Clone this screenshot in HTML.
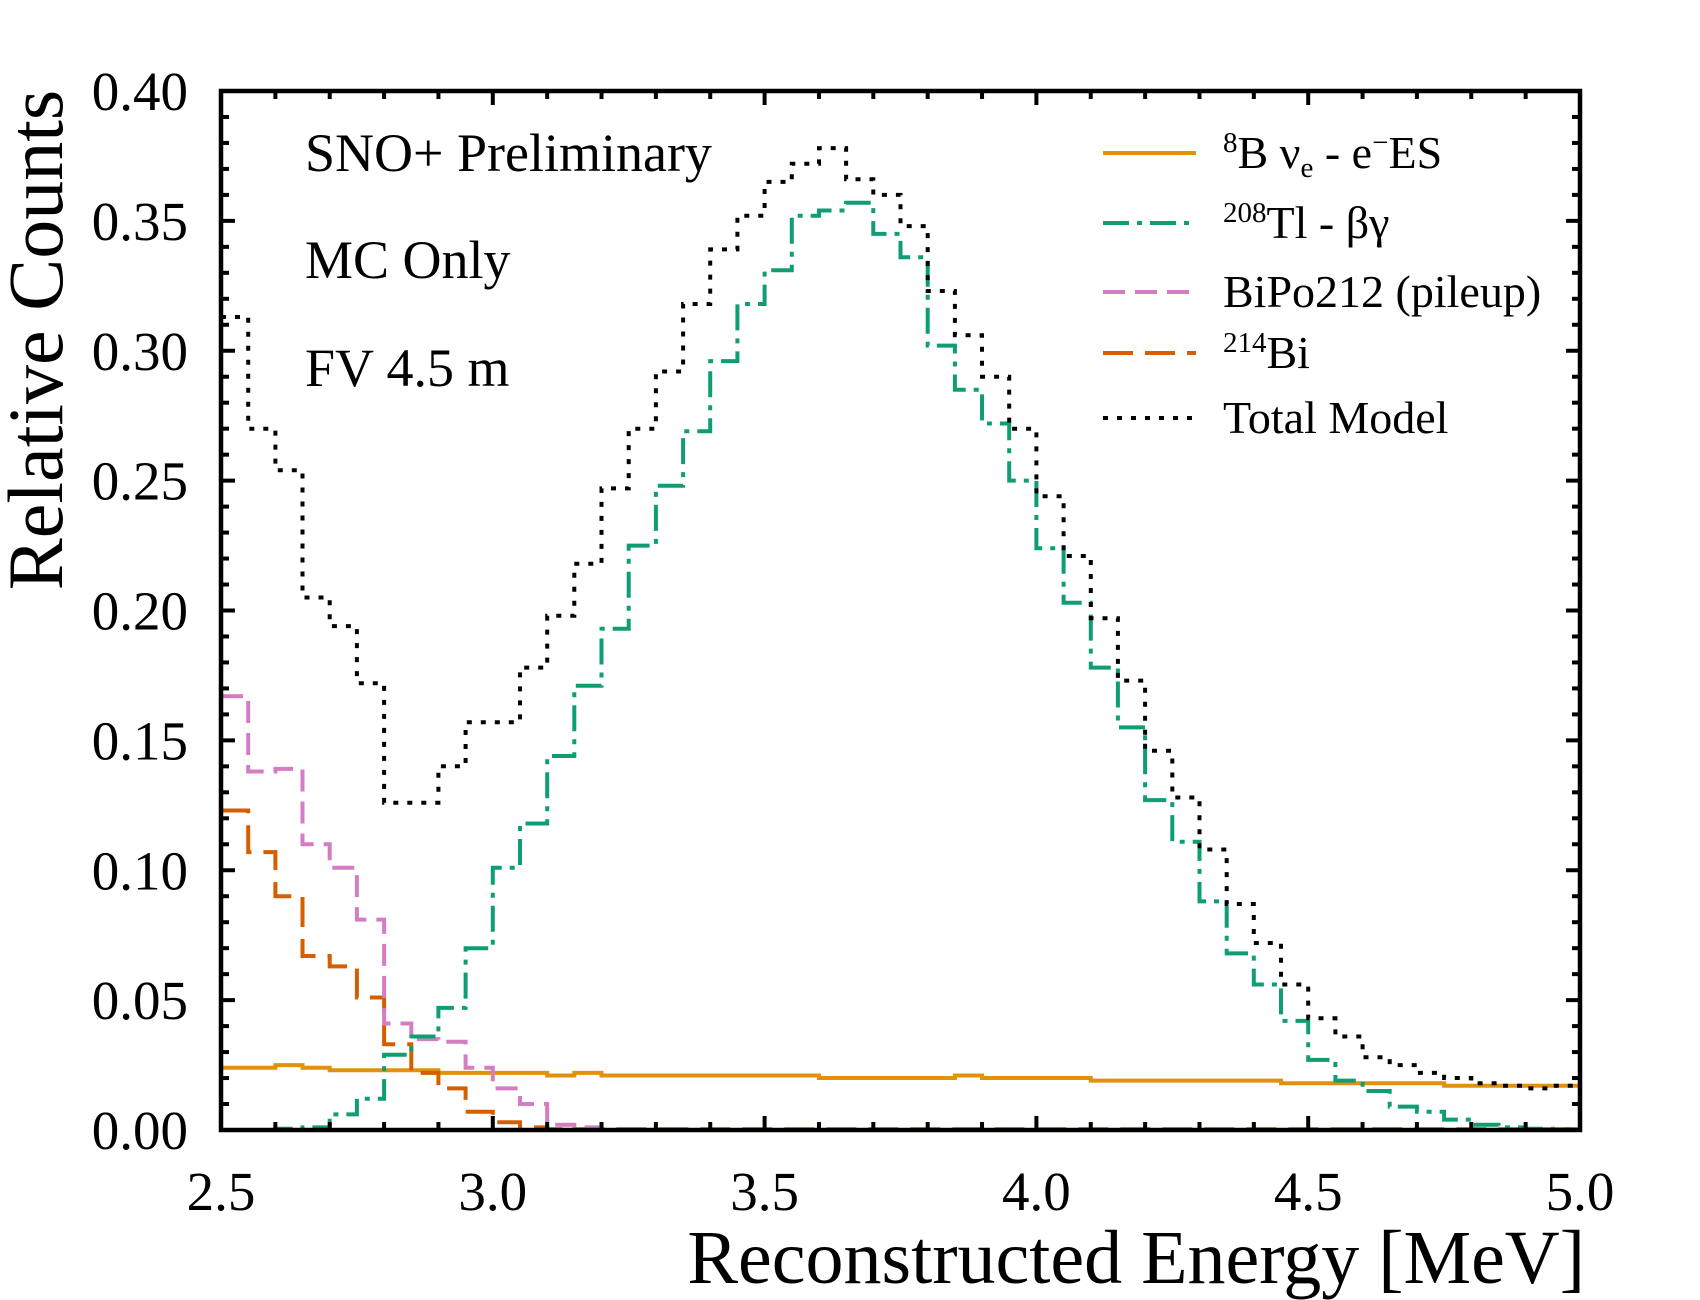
<!DOCTYPE html>
<html><head><meta charset="utf-8"><style>
html,body{margin:0;padding:0;background:#fff;}
svg{display:block;font-family:"Liberation Serif",serif;}
</style></head><body>
<svg id="chart" width="1700" height="1300" viewBox="0 0 1700 1300">
<g id="plot"></g>
<text x="1585" y="1283" text-anchor="end" font-size="76">Reconstructed Energy [MeV]</text>
<text transform="translate(62,340) rotate(-90)" text-anchor="middle" font-size="78">Relative Counts</text>
<text x="305" y="171" font-size="54">SNO+ Preliminary</text>
<text x="305" y="278" font-size="54">MC Only</text>
<text x="305" y="386" font-size="54">FV 4.5 m</text>
<g font-size="46">
<line x1="1103" x2="1196" y1="153" y2="153" stroke="#e3900b" stroke-width="4"/>
<text x="1223" y="168"><tspan font-size="29" dy="-16">8</tspan><tspan dy="16">B ν</tspan><tspan font-size="29" dy="9">e</tspan><tspan dy="-9"> - e</tspan><tspan font-size="29" dy="-16">−</tspan><tspan dy="16">ES</tspan></text>
<line x1="1103" x2="1196" y1="223" y2="223" stroke="#0f9e74" stroke-width="4" stroke-dasharray="26,8,5,8"/>
<text x="1223" y="238"><tspan font-size="29" dy="-16">208</tspan><tspan dy="16">Tl - βγ</tspan></text>
<line x1="1103" x2="1196" y1="292" y2="292" stroke="#d47dc4" stroke-width="4" stroke-dasharray="22,10"/>
<text x="1223" y="307">BiPo212 (pileup)</text>
<line x1="1103" x2="1196" y1="353" y2="353" stroke="#d55e00" stroke-width="4" stroke-dasharray="30,12"/>
<text x="1223" y="368"><tspan font-size="29" dy="-16">214</tspan><tspan dy="16">Bi</tspan></text>
<line x1="1103" x2="1196" y1="418" y2="418" stroke="#000" stroke-width="4" stroke-dasharray="5,9"/>
<text x="1223" y="433">Total Model</text>
</g>
</svg>
<script>
const binEdgesStart = 2.5;
const binWidth = 0.05;
const b8Values = [0.024,0.024,0.025,0.024,0.023,0.023,0.023,0.023,0.022,0.022,0.022,0.022,0.021,0.022,0.021,0.021,0.021,0.021,0.021,0.021,0.021,0.021,0.020,0.020,0.020,0.020,0.020,0.021,0.020,0.020,0.020,0.020,0.019,0.019,0.019,0.019,0.019,0.019,0.019,0.018,0.018,0.018,0.018,0.018,0.018,0.017,0.017,0.017,0.017,0.017];
const tlValues = [0.0,0.0,0.0005,0.001,0.006,0.012,0.029,0.036,0.047,0.070,0.101,0.118,0.144,0.171,0.193,0.225,0.248,0.269,0.296,0.318,0.331,0.352,0.354,0.357,0.345,0.336,0.302,0.285,0.272,0.250,0.224,0.203,0.178,0.155,0.127,0.111,0.088,0.068,0.056,0.042,0.027,0.019,0.015,0.009,0.007,0.004,0.002,0.001,0.0005,0.0003];
const bipoValues = [0.167,0.138,0.139,0.110,0.101,0.081,0.041,0.035,0.034,0.024,0.016,0.010,0.002,0.001,0,0,0,0,0,0,0,0,0,0,0,0,0,0,0,0,0,0,0,0,0,0,0,0,0,0,0,0,0,0,0,0,0,0,0,0];
const bi214Values = [0.123,0.107,0.090,0.067,0.063,0.051,0.033,0.022,0.016,0.007,0.003,0.001,0.0003,0.0003,0.0003,0.0003,0.0003,0.0003,0.0003,0.0003,0.0003,0.0003,0.0003,0.0003,0.0003,0.0003,0.0003,0.0003,0.0003,0.0003,0.0003,0.0003,0.0003,0.0003,0.0003,0.0003,0.0003,0.0003,0.0003,0.0003,0.0003,0.0003,0.0003,0.0003,0.0003,0.0003,0.0003,0.0003,0.0003,0.0003];
const totalValues = [0.313,0.270,0.254,0.205,0.194,0.172,0.126,0.126,0.140,0.157,0.157,0.178,0.198,0.218,0.247,0.270,0.292,0.318,0.339,0.352,0.365,0.372,0.378,0.366,0.360,0.348,0.323,0.306,0.290,0.270,0.244,0.221,0.197,0.173,0.146,0.128,0.108,0.087,0.072,0.056,0.043,0.036,0.028,0.025,0.022,0.020,0.018,0.017,0.016,0.017];
const xTickLabels = ["2.5","3.0","3.5","4.0","4.5","5.0"];
const yTickLabels = ["0.00","0.05","0.10","0.15","0.20","0.25","0.30","0.35","0.40"];

const L=221,R=1580,T=91,B=1130,XMIN=2.5,XMAX=5.0,YMIN=0,YMAX=0.4;
const xs=v=>L+(v-XMIN)/(XMAX-XMIN)*(R-L);
const ys=v=>B-(v-YMIN)/(YMAX-YMIN)*(B-T);
const NS="http://www.w3.org/2000/svg";
const g=document.getElementById('plot');
function mk(tag,attrs,parent){const e=document.createElementNS(NS,tag);for(const k in attrs)e.setAttribute(k,attrs[k]);(parent||g).appendChild(e);return e;}

function stepPath(vals){
  let d='';
  vals.forEach((v,i)=>{const x0=xs(binEdgesStart+i*binWidth),x1=xs(binEdgesStart+(i+1)*binWidth),y=ys(v);
    d+=(i===0?'M':'L')+x0.toFixed(1)+','+y.toFixed(1)+'L'+x1.toFixed(1)+','+y.toFixed(1);});
  return d;
}
const series=[
 {vals:b8Values,color:'#e3900b',dash:'none',name:'series-b8'},
 {vals:bi214Values,color:'#d55e00',dash:'30,12',name:'series-bi214'},
 {vals:bipoValues,color:'#d47dc4',dash:'22,10',name:'series-bipo212'},
 {vals:tlValues,color:'#0f9e74',dash:'26,8,5,8',name:'series-tl208'},
 {vals:totalValues,color:'#000',dash:'5,9',name:'series-total-model'}
];
const clip=mk('clipPath',{id:'pc'});mk('rect',{x:L,y:T,width:R-L,height:B-T},clip);
series.forEach(s=>{
  const p=mk('path',{d:stepPath(s.vals),fill:'none',stroke:s.color,'stroke-width':4,'stroke-dasharray':s.dash,'clip-path':'url(#pc)'});
  
  
});
const fr=mk('rect',{x:L,y:T,width:R-L,height:B-T,fill:'none',stroke:'#000','stroke-width':4.5});


for(let i=0;i<=40;i++){const v=i*0.01,y=ys(v),len=(i%5===0)?14:8;
  mk('line',{x1:L,x2:L+len,y1:y,y2:y,stroke:'#000','stroke-width':4});
  mk('line',{x1:R,x2:R-len,y1:y,y2:y,stroke:'#000','stroke-width':4});}
for(let i=0;i<=25;i++){const v=2.5+i*0.1,x=xs(v),len=(i%5===0)?14:8;
  mk('line',{x1:x,x2:x,y1:B,y2:B-len,stroke:'#000','stroke-width':4});
  mk('line',{x1:x,x2:x,y1:T,y2:T+len,stroke:'#000','stroke-width':4});}
xTickLabels.forEach(t=>{const e=mk('text',{x:xs(parseFloat(t)),y:1210,'text-anchor':'middle','font-size':55});e.textContent=t;
  
  });
yTickLabels.forEach(t=>{const e=mk('text',{x:188,y:ys(parseFloat(t))+19,'text-anchor':'end','font-size':55});e.textContent=t;
  
  });
</script>
</body></html>
